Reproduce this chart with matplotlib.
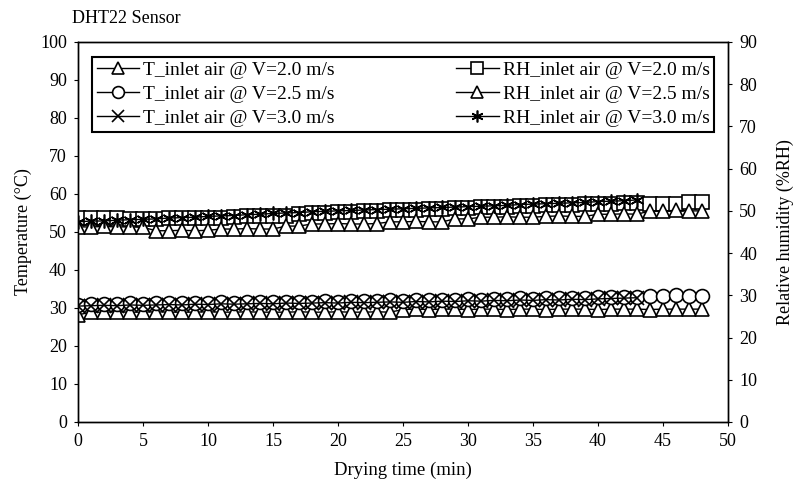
import matplotlib.pyplot as plt

plt.rcParams['font.family'] = ['Liberation Serif', 'DejaVu Serif']

# drying time (min)
time_long = list(range(49))
time_short = list(range(44))

# inlet air temperature (deg C)
t_v20 = [28.2, 28.9, 28.9, 29.0, 28.9, 28.9, 29.0, 28.9, 28.9, 28.9,
         29.0, 28.9, 28.9, 29.0, 28.9, 28.9, 28.9, 29.0, 28.9, 28.9,
         29.0, 28.9, 28.9, 29.0, 28.9, 29.6, 29.7, 29.6, 29.7, 29.7,
         29.6, 29.7, 29.7, 29.6, 29.7, 29.7, 29.6, 29.7, 29.7, 29.7,
         29.6, 29.7, 29.7, 29.7, 29.6, 29.7, 29.7, 29.7, 29.7]
t_v25 = [30.9, 31.0, 31.1, 31.0, 31.2, 31.1, 31.2, 31.3, 31.2, 31.4,
         31.3, 31.5, 31.4, 31.5, 31.6, 31.5, 31.7, 31.6, 31.7, 31.8,
         31.7, 31.9, 31.8, 31.9, 32.0, 31.9, 32.1, 32.0, 32.2, 32.1,
         32.3, 32.2, 32.4, 32.3, 32.5, 32.4, 32.6, 32.5, 32.7, 32.6,
         32.8, 32.9, 33.0, 33.0, 33.2, 33.2, 33.3, 33.2, 33.2]
t_v30 = [30.5, 30.6, 30.7, 30.6, 30.8, 30.7, 30.8, 30.9, 30.8, 31.0,
         30.9, 31.1, 31.0, 31.1, 31.2, 31.1, 31.3, 31.2, 31.3, 31.4,
         31.3, 31.5, 31.4, 31.5, 31.6, 31.5, 31.7, 31.6, 31.8, 31.7,
         31.9, 31.8, 32.0, 31.9, 32.1, 32.0, 32.2, 32.1, 32.3, 32.2,
         32.4, 32.5, 32.6, 32.7]

# inlet air relative humidity (%RH)
rh_v20 = [48.3, 48.3, 48.2, 48.2, 48.1, 48.1, 48.1, 48.2, 48.2, 48.3,
          48.3, 48.4, 48.6, 48.7, 48.8, 48.8, 48.9, 49.3, 49.5, 49.6,
          49.7, 49.8, 49.9, 50.0, 50.1, 50.2, 50.3, 50.4, 50.5, 50.6,
          50.7, 50.8, 50.9, 51.0, 51.1, 51.2, 51.3, 51.4, 51.5, 51.6,
          51.7, 51.7, 51.8, 51.8, 51.6, 51.6, 51.7, 52.2, 52.0]
rh_v25 = [46.2, 46.2, 46.3, 46.2, 46.2, 46.1, 45.3, 45.3, 45.4, 45.3,
          45.4, 45.7, 45.7, 45.8, 45.7, 45.7, 46.4, 46.4, 46.9, 46.9,
          47.0, 46.9, 46.9, 47.0, 47.4, 47.4, 47.5, 47.4, 47.4, 48.1,
          48.1, 48.5, 48.5, 48.6, 48.5, 48.5, 48.7, 48.8, 48.7, 48.7,
          49.2, 49.2, 49.3, 49.2, 50.0, 50.0, 50.1, 50.0, 50.0]
rh_v30 = [47.4, 47.6, 47.6, 47.8, 47.9, 48.0, 48.1, 48.3, 48.4, 48.5,
          48.7, 48.8, 48.9, 49.1, 49.2, 49.4, 49.5, 49.6, 49.8, 49.9,
          50.0, 50.1, 50.2, 50.3, 50.4, 50.5, 50.6, 50.7, 50.8, 50.9,
          51.0, 51.1, 51.2, 51.3, 51.5, 51.6, 51.7, 51.8, 51.9, 52.0,
          52.2, 52.3, 52.4, 52.6]

style = dict(color='black', lw=1, ms=10, mew=1.2, mfc='white', mec='black')

fig = plt.figure(figsize=(7.97, 4.82), dpi=100)
ax = fig.add_axes([0.0979, 0.1245, 0.8156, 0.7884])
ax2 = ax.twinx()

h1, = ax.plot(time_long, t_v20, marker='^', label='T_inlet air @ V=2.0 m/s', **style)
h2, = ax.plot(time_long, t_v25, marker='o', label='T_inlet air @ V=2.5 m/s', **style)
h3, = ax.plot(time_short, t_v30, marker='x', label='T_inlet air @ V=3.0 m/s', **style)
h4, = ax2.plot(time_long, rh_v20, marker='s', label='RH_inlet air @ V=2.0 m/s', **style)
h5, = ax2.plot(time_long, rh_v25, marker='^', label='RH_inlet air @ V=2.5 m/s', **style)
h6, = ax2.plot(time_short, rh_v30, marker=(6, 2, 0), label='RH_inlet air @ V=3.0 m/s', **style)

ax.set_xlim(0, 50)
ax.set_ylim(0, 100)
ax2.set_ylim(0, 90)
ax.set_xticks(range(0, 51, 5))
ax.set_yticks(range(0, 101, 10))
ax2.set_yticks(range(0, 91, 10))

for a in (ax, ax2):
    a.tick_params(direction='out', length=3, width=0.8, labelsize=13, pad=5)
    for s in a.spines.values():
        s.set_linewidth(1)

ax.set_xlabel('Drying time (min)', fontsize=13.5, labelpad=8)
ax.set_ylabel('Temperature (°C)', fontsize=13, labelpad=6)
ax2.set_ylabel('Relative humidity (%RH)', fontsize=13, labelpad=14)
ax.set_title('DHT22 Sensor', loc='left', fontsize=13, pad=14, x=-0.01)

leg = ax2.legend(handles=[h1, h2, h3, h4, h5, h6], ncol=2, loc='upper left',
                 bbox_to_anchor=(0.006, 0.987, 0.988, 0.0), mode='expand',
                 fontsize=14, frameon=True, fancybox=False, framealpha=1,
                 handlelength=2.2, handletextpad=0.2, labelspacing=0.33,
                 borderpad=0.25, columnspacing=1.5, markerscale=0.85)
leg.get_frame().set_edgecolor('black')
leg.get_frame().set_linewidth(1.5)

fig.savefig('out.png', dpi=100)
